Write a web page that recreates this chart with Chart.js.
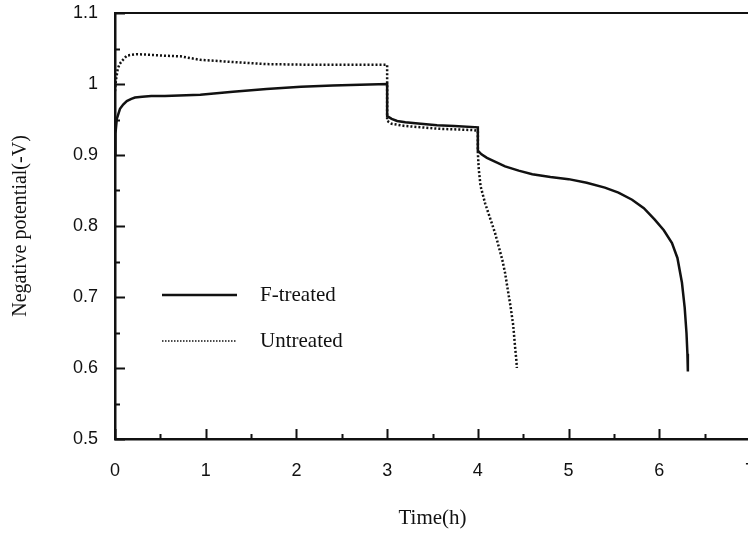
<!DOCTYPE html>
<html>
<head>
<meta charset="utf-8">
<script src="https://cdn.jsdelivr.net/npm/chart.js@4.4.0/dist/chart.umd.min.js"></script>
<style>
  html, body { margin: 0; padding: 0; background: #fff; overflow: hidden; }
</style>
</head>
<body>
<canvas id="chartpotential" width="790" height="533"></canvas>
<script>
// time (h) and negative potential (-V)
const fTime = [0, 0.005, 0.02, 0.055, 0.09, 0.13, 0.18, 0.22, 0.3, 0.4, 0.55, 0.94, 1.3, 1.67, 2.05, 2.4, 2.7, 3.0,
  3.0, 3.05, 3.11, 3.2, 3.37, 3.55, 3.74, 4.0,
  4.0, 4.04, 4.1, 4.2, 4.3, 4.45, 4.6, 4.8, 5.0, 5.2, 5.4, 5.55, 5.7, 5.83, 5.95, 6.05, 6.14, 6.2, 6.25, 6.28, 6.3, 6.31, 6.315];
const fValue = [0.90, 0.93, 0.951, 0.965, 0.971, 0.976, 0.979, 0.981, 0.982, 0.983, 0.983, 0.985, 0.989, 0.993, 0.996, 0.998, 0.999, 1.0,
  0.955, 0.951, 0.948, 0.946, 0.944, 0.942, 0.941, 0.939,
  0.906, 0.901, 0.896, 0.890, 0.884, 0.878, 0.873, 0.869, 0.866, 0.861, 0.854, 0.847, 0.837, 0.825, 0.809, 0.794, 0.776, 0.755, 0.720, 0.685, 0.649, 0.620, 0.595];

const uTime = [0, 0.01, 0.03, 0.05, 0.08, 0.13, 0.18, 0.25, 0.41, 0.53, 0.72, 0.94, 1.3, 1.68, 2.2, 2.6, 3.0,
  3.0, 3.05, 3.19, 3.56, 3.96, 4.0,
  4.0, 4.01, 4.03, 4.08, 4.14, 4.19, 4.23, 4.27, 4.30, 4.33, 4.36, 4.39, 4.41, 4.425, 4.43];
const uValue = [0.99, 1.005, 1.021, 1.028, 1.033, 1.04, 1.041, 1.042, 1.041, 1.04, 1.039, 1.034, 1.031, 1.028, 1.027, 1.027, 1.027,
  0.948, 0.944, 0.941, 0.937, 0.935, 0.934,
  0.903, 0.880, 0.856, 0.832, 0.809, 0.790, 0.771, 0.752, 0.734, 0.710, 0.687, 0.660, 0.630, 0.610, 0.600];

const seriesNames = ['F-treated', 'Untreated'];
const xTicks = [0, 1, 2, 3, 4, 5, 6, 7];
const yTicks = [0.5, 0.6, 0.7, 0.8, 0.9, 1, 1.1];

const ink = '#111';
const pts = (xs, ys) => xs.map((t, i) => ({x: t, y: ys[i]}));

// inward tick marks, top frame line and the legend inside the plot
const frame = {
  id: 'frame',
  afterDatasetsDraw(chart) {
    const {ctx, chartArea: a, scales: {x, y}} = chart;
    ctx.save();
    ctx.strokeStyle = ink;
    ctx.lineWidth = 2;
    ctx.beginPath();
    ctx.moveTo(a.left, a.top);
    ctx.lineTo(a.right, a.top);
    for (let i = 0; i < xTicks.length * 2 - 1; i++) {
      const px = Math.round(x.getPixelForValue(xTicks[0] + i / 2)) + 0.5;
      ctx.moveTo(px, a.bottom);
      ctx.lineTo(px, a.bottom - (i % 2 ? 5 : 10));
    }
    for (let i = 0; i < yTicks.length * 2 - 1; i++) {
      const py = Math.round(y.getPixelForValue(yTicks[0] + i * 0.05)) + 0.5;
      ctx.moveTo(a.left, py);
      ctx.lineTo(a.left + (i % 2 ? 5 : 10), py);
    }
    ctx.stroke();

    ctx.font = '21px "Liberation Serif"';
    ctx.fillStyle = ink;
    ctx.textBaseline = 'middle';
    chart.data.datasets.forEach((ds, i) => {
      const ly = a.top + 282 + i * 46;
      ctx.beginPath();
      ctx.lineWidth = i ? 1.6 : 2.5;
      ctx.setLineDash(i ? [1.5, 1.5] : []);
      ctx.moveTo(a.left + 47, ly);
      ctx.lineTo(a.left + 122, ly);
      ctx.stroke();
      ctx.fillText(ds.label, a.left + 145, ly);
    });
    ctx.restore();
  }
};

const config = {
  type: 'scatter',
  data: {
    datasets: [{
      label: seriesNames[0],
      data: pts(fTime, fValue),
      showLine: true,
      borderColor: ink,
      borderWidth: 2.5,
      pointRadius: 0,
    }, {
      label: seriesNames[1],
      data: pts(uTime, uValue),
      showLine: true,
      borderColor: ink,
      borderWidth: 2.5,
      borderDash: [2, 2],
      pointRadius: 0,
    }]
  },
  options: {
    responsive: false,
    animation: false,
    layout: { padding: { top: 0, right: 40, bottom: 0, left: 0 } },
    plugins: { legend: { display: false }, tooltip: { enabled: false } },
    scales: {
      x: {
        type: 'linear',
        min: 0,
        max: 7,
        afterFit: s => { s.height = 94; },
        afterBuildTicks: s => { s.ticks = xTicks.map(v => ({value: v})); },
        grid: { drawOnChartArea: false, drawTicks: false },
        border: { color: ink, width: 2.5 },
        ticks: { color: ink, padding: 21, font: { family: '"Liberation Sans"', size: 18 } },
        title: {
          display: true,
          text: 'Time(h)',
          color: ink,
          padding: { top: 0, bottom: 2 },
          font: { family: '"Liberation Serif"', size: 21 },
        },
      },
      y: {
        min: 0.5,
        max: 1.1,
        afterFit: s => { s.width = 115; s.paddingTop = 13; s.paddingBottom = 0; },
        afterBuildTicks: s => { s.ticks = yTicks.map(v => ({value: v})); },
        grid: { drawOnChartArea: false, drawTicks: false },
        border: { color: ink, width: 2.5 },
        ticks: {
          color: ink,
          padding: 17,
          font: { family: '"Liberation Sans"', size: 18 },
          callback: v => String(Math.round(v * 10) / 10),
        },
        title: {
          display: true,
          text: 'Negative potential(-V)',
          color: ink,
          padding: { top: 9, bottom: 0 },
          font: { family: '"Liberation Serif"', size: 20 },
        },
      },
    },
  },
  plugins: [frame],
};

const chartpotential = new Chart(document.getElementById('chartpotential'), config);
</script>
</body>
</html>
